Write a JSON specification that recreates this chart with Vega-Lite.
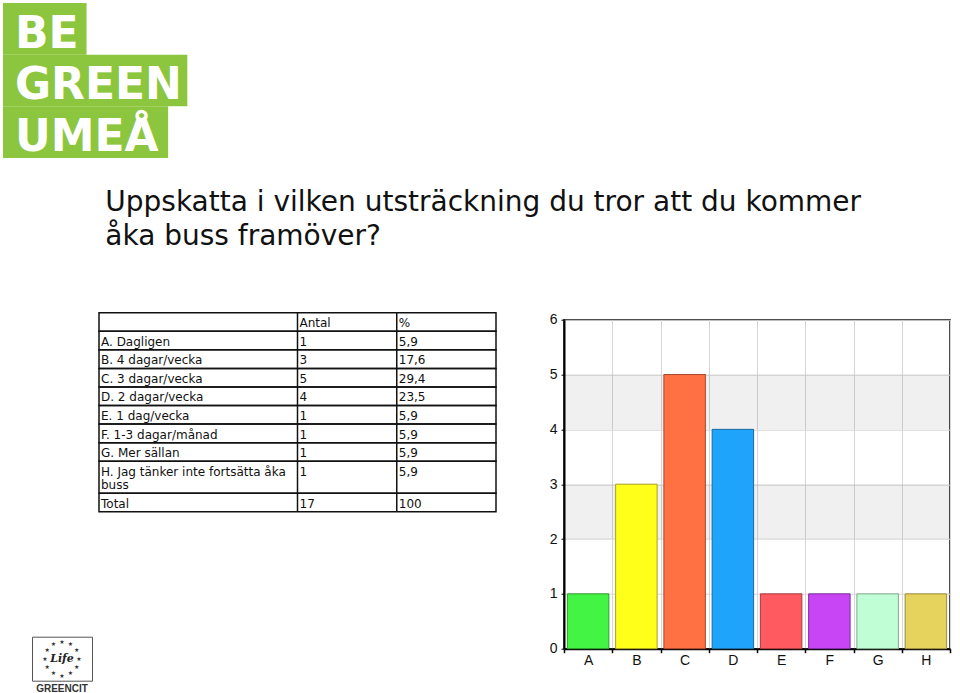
{
  "$schema": "https://vega.github.io/schema/vega-lite/v6.json",
  "background": "white",
  "padding": {"left": 3, "top": 3, "right": 0, "bottom": 0},
  "bounds": "flush",
  "spacing": 154.7,
  "config": {"view": {"stroke": null}},
  "vconcat": [
    {
      "width": 192,
      "height": 155,
      "data": {"values": [
        {"word": "BE", "box": 87},
        {"word": "GREEN", "box": 192},
        {"word": "UMEÅ", "box": 172}
      ]},
      "layer": [
        {
          "mark": {"type": "bar", "color": "#8cc63f"},
          "encoding": {
            "y": {"field": "word", "type": "nominal", "sort": null, "scale": {"paddingInner": 0, "paddingOuter": 0}, "axis": null},
            "x": {"field": "box", "type": "quantitative", "scale": {"domain": [0, 192]}, "axis": null}
          }
        },
        {
          "mark": {"type": "text", "align": "left", "baseline": "alphabetic", "dx": 12, "dy": -7, "font": "DejaVu Sans", "fontWeight": "bold", "fontSize": 44, "color": "white"},
          "encoding": {
            "y": {"field": "word", "type": "nominal", "sort": null, "bandPosition": 1},
            "x": {"datum": 0, "type": "quantitative"},
            "text": {"field": "word"}
          }
        }
      ]
    },
    {
      "hconcat": [
        {"width": 29, "height": 1, "data": {"values": [{}]}, "mark": {"type": "point", "opacity": 0}},
        {
          "vconcat": [
            {"width": 60, "height": 323.3, "data": {"values": [{}]}, "mark": {"type": "point", "opacity": 0}},
            {
              "width": 60,
              "height": 44,
              "view": {"stroke": "#555", "strokeWidth": 1},
              "title": {"text": "GREENCIT", "orient": "bottom", "anchor": "middle", "fontSize": 10, "font": "Liberation Sans", "fontWeight": "bold", "color": "#333", "offset": 3},
              "layer": [
                {
                  "data": {"values": [{"i": 0}, {"i": 1}, {"i": 2}, {"i": 3}, {"i": 4}, {"i": 5}, {"i": 6}, {"i": 7}, {"i": 8}, {"i": 9}, {"i": 10}, {"i": 11}]},
                  "mark": {"type": "text", "text": "★", "fontSize": 6, "radius": 17, "color": "#333", "font": "DejaVu Sans"},
                  "encoding": {"theta": {"field": "i", "type": "quantitative", "scale": {"domain": [0, 12]}}}
                },
                {
                  "data": {"values": [{"name": "Life"}]},
                  "mark": {"type": "text", "font": "DejaVu Serif", "fontStyle": "italic", "fontWeight": "bold", "fontSize": 11, "color": "#222"},
                  "encoding": {"text": {"field": "name"}}
                }
              ]
            }
          ],
          "spacing": 0,
          "bounds": "flush"
        },
        {"width": 66.3, "height": 1, "data": {"values": [{}]}, "mark": {"type": "point", "opacity": 0}},
        {
          "width": 397,
          "height": 199,
          "title": {
            "text": ["Uppskatta i vilken utsträckning du tror att du kommer", "åka buss framöver?"],
            "anchor": "start",
            "font": "DejaVu Sans",
            "fontSize": 28,
            "fontWeight": "normal",
            "color": "#111",
            "lineHeight": 34,
            "offset": 61,
            "dx": 7
          },
          "data": {"values": [
            {"label": "", "antal": "Antal", "pct": "%", "r0": 0, "r1": 1},
            {"label": "A. Dagligen", "antal": "1", "pct": "5,9", "r0": 1, "r1": 2},
            {"label": "B. 4 dagar/vecka", "antal": "3", "pct": "17,6", "r0": 2, "r1": 3},
            {"label": "C. 3 dagar/vecka", "antal": "5", "pct": "29,4", "r0": 3, "r1": 4},
            {"label": "D. 2 dagar/vecka", "antal": "4", "pct": "23,5", "r0": 4, "r1": 5},
            {"label": "E. 1 dag/vecka", "antal": "1", "pct": "5,9", "r0": 5, "r1": 6},
            {"label": "F. 1-3 dagar/månad", "antal": "1", "pct": "5,9", "r0": 6, "r1": 7},
            {"label": "G. Mer sällan", "antal": "1", "pct": "5,9", "r0": 7, "r1": 8},
            {"label": "H. Jag tänker inte fortsätta åka\nbuss", "antal": "1", "pct": "5,9", "r0": 8, "r1": 9.72},
            {"label": "Total", "antal": "17", "pct": "100", "r0": 9.72, "r1": 10.72}
          ]},
          "layer": [
            {
              "mark": {"type": "rect", "filled": false, "color": "#111", "strokeWidth": 1.5},
              "encoding": {
                "y": {"field": "r0", "type": "quantitative", "scale": {"domain": [0, 10.72], "reverse": true, "nice": false, "zero": false}, "axis": null},
                "y2": {"field": "r1"}
              }
            },
            {
              "data": {"values": [{}]},
              "mark": {"type": "rule", "color": "#111", "strokeWidth": 1.5},
              "encoding": {"x": {"datum": 2, "type": "quantitative", "scale": {"domain": [0, 4], "nice": false}, "axis": null}}
            },
            {
              "data": {"values": [{}]},
              "mark": {"type": "rule", "color": "#111", "strokeWidth": 1.5},
              "encoding": {"x": {"datum": 3, "type": "quantitative"}}
            },
            {
              "mark": {"type": "text", "align": "left", "baseline": "alphabetic", "dx": 2, "dy": 14.5, "font": "DejaVu Sans", "fontSize": 12, "color": "#111", "lineBreak": "\n", "lineHeight": 13},
              "encoding": {
                "x": {"datum": 0, "type": "quantitative"},
                "y": {"field": "r0", "type": "quantitative"},
                "text": {"field": "label"}
              }
            },
            {
              "mark": {"type": "text", "align": "left", "baseline": "alphabetic", "dx": 2, "dy": 14.5, "font": "DejaVu Sans", "fontSize": 12, "color": "#111"},
              "encoding": {
                "x": {"datum": 2, "type": "quantitative"},
                "y": {"field": "r0", "type": "quantitative"},
                "text": {"field": "antal"},
                "fontWeight": {"condition": {"test": "datum.r0 === 0", "value": "bold"}, "value": "normal"}
              }
            },
            {
              "mark": {"type": "text", "align": "left", "baseline": "alphabetic", "dx": 2, "dy": 14.5, "font": "DejaVu Sans", "fontSize": 12, "color": "#111"},
              "encoding": {
                "x": {"datum": 3, "type": "quantitative"},
                "y": {"field": "r0", "type": "quantitative"},
                "text": {"field": "pct"}
              }
            }
          ]
        },
        {"width": 68, "height": 1, "data": {"values": [{}]}, "mark": {"type": "point", "opacity": 0}},
        {
          "vconcat": [
            {"width": 386, "height": 6.3, "data": {"values": [{}]}, "mark": {"type": "point", "opacity": 0}},
            {
              "width": 386,
              "height": 329,
              "view": {"stroke": "#111", "strokeWidth": 1.5, "fill": "white"},
              "layer": [
                {
                  "data": {"values": [{"lo": 2, "hi": 3}, {"lo": 4, "hi": 5}]},
                  "mark": {"type": "rect", "color": "#000", "opacity": 0.06},
                  "encoding": {
                    "y": {
                      "field": "lo", "type": "quantitative", "scale": {"domain": [0, 6]},
                      "axis": {"title": null, "values": [0, 1, 2, 3, 4, 5, 6], "grid": true, "gridColor": "#d6d6d6", "domainColor": "#000", "domainWidth": 2, "tickColor": "#000", "tickSize": 3, "labelFontSize": 14, "labelFont": "Liberation Sans", "labelColor": "#111", "labelPadding": 4}
                    },
                    "y2": {"field": "hi"}
                  }
                },
                {
                  "data": {"values": [
                    {"cat": "A", "n": 1},
                    {"cat": "B", "n": 3},
                    {"cat": "C", "n": 5},
                    {"cat": "D", "n": 4},
                    {"cat": "E", "n": 1},
                    {"cat": "F", "n": 1},
                    {"cat": "G", "n": 1},
                    {"cat": "H", "n": 1}
                  ]},
                  "mark": {"type": "bar", "width": {"band": 0.86}, "strokeWidth": 1},
                  "encoding": {
                    "x": {
                      "field": "cat", "type": "nominal",
                      "scale": {"paddingInner": 0, "paddingOuter": 0},
                      "axis": {"title": null, "labelAngle": 0, "tickBand": "extent", "grid": true, "gridColor": "#d6d6d6", "domainColor": "#000", "domainWidth": 2, "tickColor": "#000", "tickSize": 4, "tickWidth": 1.5, "labelFontSize": 14, "labelFont": "Liberation Sans", "labelColor": "#111", "labelPadding": 1}
                    },
                    "y": {
                      "field": "n", "type": "quantitative",
                      "scale": {"domain": [0, 6]},
                      "axis": {"title": null, "values": [0, 1, 2, 3, 4, 5, 6], "grid": true, "gridColor": "#d6d6d6", "domainColor": "#000", "domainWidth": 2, "tickColor": "#000", "tickSize": 3, "labelFontSize": 14, "labelFont": "Liberation Sans", "labelColor": "#111", "labelPadding": 4}
                    },
                    "fill": {"field": "cat", "type": "nominal", "scale": {"range": ["#44f444", "#ffff1a", "#ff7043", "#1ea4fa", "#ff5a5f", "#c845f5", "#c0ffd6", "#e6d35e"]}, "legend": null},
                    "stroke": {"field": "cat", "type": "nominal", "scale": {"range": ["#2e9e2e", "#a8a020", "#a8472a", "#1a6aa0", "#a83a3e", "#7e2ea0", "#80a88c", "#9a8c3e"]}, "legend": null}
                  }
                }
              ]
            }
          ],
          "spacing": 0,
          "bounds": "flush"
        }
      ],
      "spacing": 0,
      "bounds": "flush"
    }
  ]
}
